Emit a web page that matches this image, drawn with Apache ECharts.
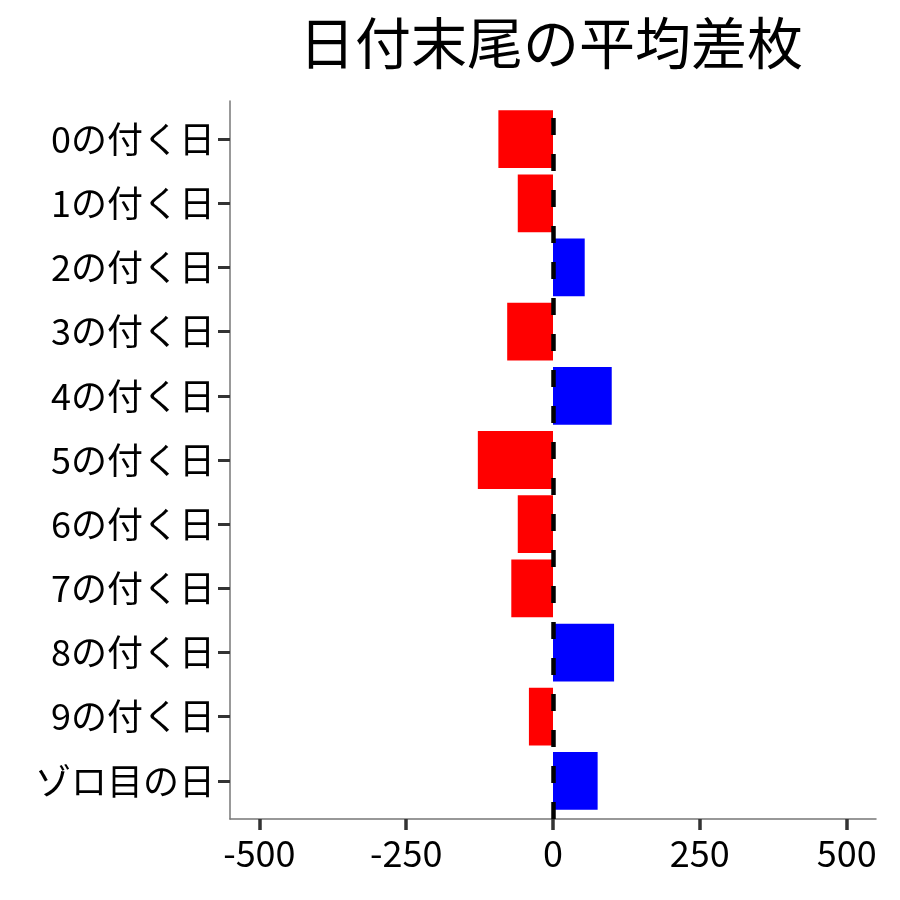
<!DOCTYPE html>
<html>
<head>
<meta charset="UTF-8">
<title>日付末尾の平均差枚</title>
<script src="https://cdn.jsdelivr.net/npm/echarts@6/dist/echarts.min.js"></script>
<style>
  html, body { margin: 0; padding: 0; background: #fff; }
  #chart { width: 900px; height: 900px; }
</style>
</head>
<body>
<div id="chart"></div>
<script>
// 日付末尾ごとの平均差枚
var categories = ['0の付く日', '1の付く日', '2の付く日', '3の付く日', '4の付く日',
  '5の付く日', '6の付く日', '7の付く日', '8の付く日', '9の付く日', 'ゾロ目の日'];
var diffValues = [-93, -60, 54, -78, 100, -128, -60, -71, 104, -41, 76];
var tickMin = -500, tickMax = 500, tickStep = 250;

var font = '"Noto Sans CJK JP", "Noto Sans", sans-serif';
var xMin = -550, xMax = 550;
var plotL = 230, plotR = 24;
// px per unit, so the tick axis (−500..500) sits exactly inside the panel
var pxPerUnit = (900 - plotL - plotR) / (xMax - xMin);
var tickL = plotL + (tickMin - xMin) * pxPerUnit;
var tickR = plotR + (xMax - tickMax) * pxPerUnit;

var chart = echarts.init(document.getElementById('chart'));
chart.setOption({
  animation: false,
  title: {
    text: '日付末尾の平均差枚',
    left: 546,
    top: 10,
    textAlign: 'center',
    textStyle: { fontFamily: font, fontSize: 56, fontWeight: 'normal', color: '#000' }
  },
  // grid 0: panel frame (axis lines, zero line)
  // grid 1: bars, inset like ggplot's discrete expansion
  // grid 2: x ticks and labels
  grid: [
    { left: plotL, right: plotR, top: 101, bottom: 81 },
    { left: plotL, right: plotR, top: 107, bottom: 87 },
    { left: tickL, right: tickR, top: 101, bottom: 81 }
  ],
  xAxis: [{
    type: 'value',
    gridIndex: 0,
    min: xMin,
    max: xMax,
    splitLine: { show: false },
    axisLine: { show: true, onZero: false, lineStyle: { color: '#777', width: 1.5 } },
    axisTick: { show: false },
    axisLabel: { show: false }
  }, {
    type: 'value',
    gridIndex: 1,
    min: xMin,
    max: xMax,
    show: false
  }, {
    type: 'value',
    gridIndex: 2,
    min: tickMin,
    max: tickMax,
    interval: tickStep,
    splitLine: { show: false },
    axisLine: { show: false, onZero: false },
    axisTick: { show: true, length: 11, lineStyle: { color: '#333', width: 3.5 } },
    axisLabel: { margin: 16, fontFamily: font, fontSize: 36, color: '#000' }
  }],
  yAxis: [{
    type: 'category',
    gridIndex: 0,
    data: categories,
    axisLine: { show: true, onZero: false, lineStyle: { color: '#777', width: 1.5 } },
    axisTick: { show: false },
    axisLabel: { show: false }
  }, {
    type: 'category',
    gridIndex: 1,
    data: categories,
    inverse: true,
    axisLine: { show: false, onZero: false },
    axisTick: { show: true, length: 12, alignWithLabel: true, lineStyle: { color: '#333', width: 3 } },
    axisLabel: { margin: 15, fontFamily: font, fontSize: 36, color: '#000' }
  }, {
    type: 'value',
    gridIndex: 2,
    show: false
  }],
  series: [{
    type: 'bar',
    xAxisIndex: 1,
    yAxisIndex: 1,
    data: diffValues.map(function (v) {
      return { value: v, itemStyle: { color: v < 0 ? '#ff0000' : '#0000ff' } };
    }),
    barWidth: '90%'
  }, {
    type: 'line',
    xAxisIndex: 0,
    yAxisIndex: 0,
    data: [],
    markLine: {
      silent: true,
      symbol: 'none',
      label: { show: false },
      lineStyle: { color: '#000', width: 4.5, type: [17, 19] },
      data: [{ xAxis: 0 }]
    },
    z: 10
  }]
});
</script>
</body>
</html>
